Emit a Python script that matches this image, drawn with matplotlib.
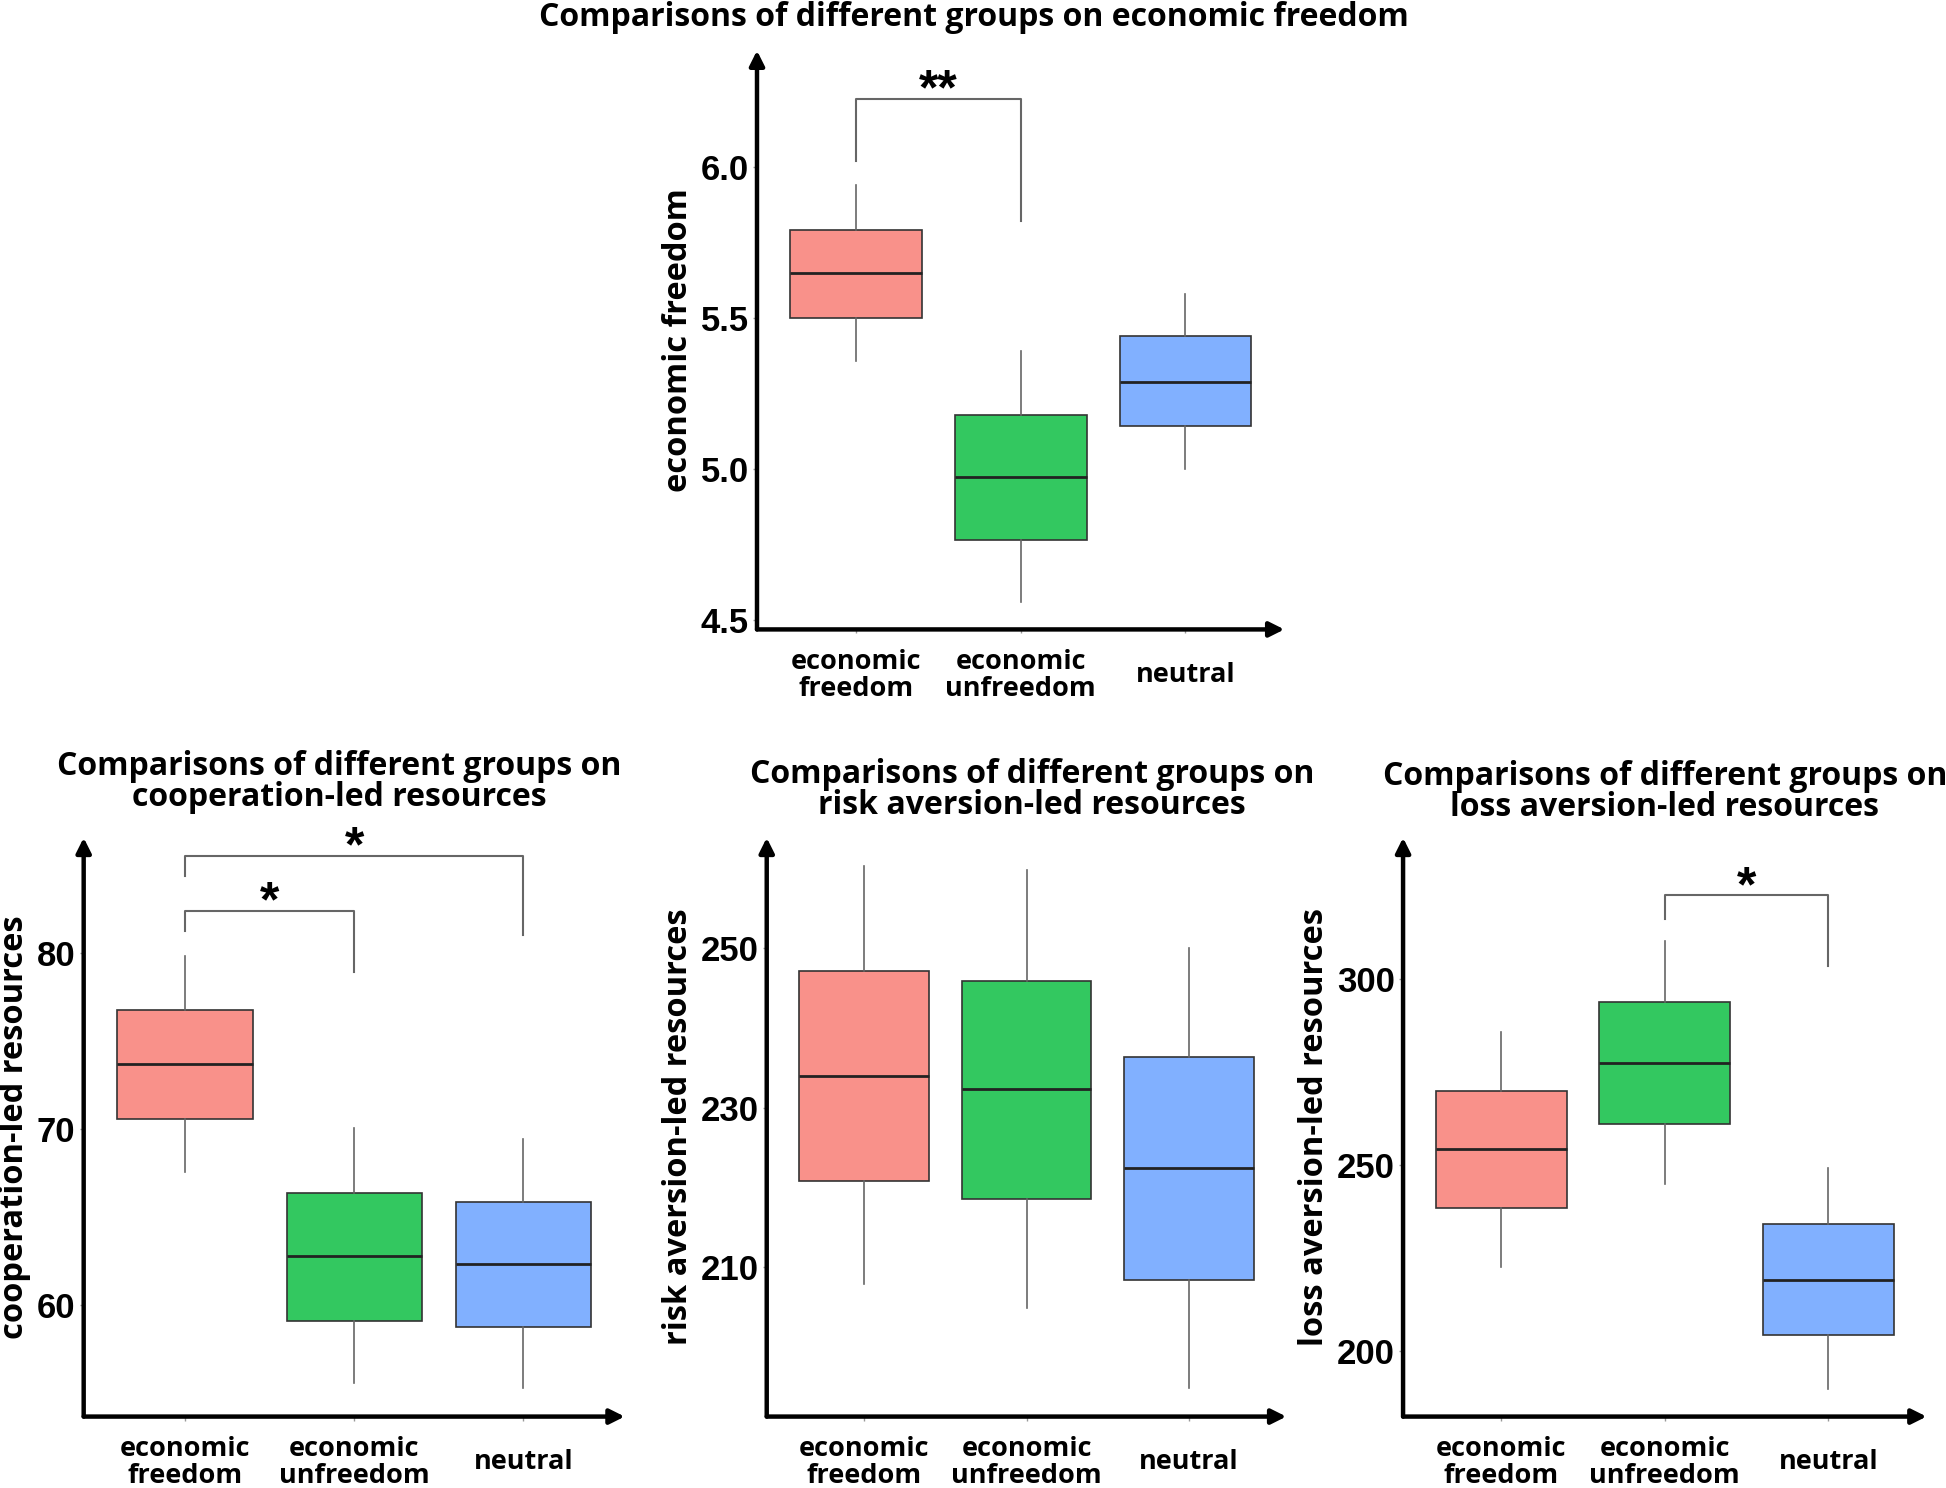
import matplotlib
matplotlib.use("Agg")
import matplotlib.pyplot as plt

# ---- données ----
groups = ["economic\nfreedom", "economic\nunfreedom", "neutral"]
colors = ["#F9918A", "#33C860", "#81B0FF"]

# stats : (bas moustache, Q1, médiane, Q3, haut moustache)
ef_stats = [(5.357, 5.50, 5.648, 5.79, 5.94),
            (4.56, 4.766, 4.975, 5.18, 5.39),
            (5.00, 5.143, 5.29, 5.44, 5.58)]
coop_stats = [(67.57, 70.57, 73.69, 76.78, 79.86),
              (55.55, 59.07, 62.79, 66.34, 70.03),
              (55.27, 58.74, 62.30, 65.85, 69.40)]
risk_stats = [(207.8, 220.8, 234.0, 247.2, 260.4),
              (204.8, 218.5, 232.3, 245.9, 259.8),
              (194.8, 208.4, 222.4, 236.3, 250.1)]
loss_stats = [(222.7, 238.4, 254.2, 269.9, 285.9),
              (244.9, 261.1, 277.5, 293.8, 310.3),
              (189.8, 204.3, 219.2, 234.1, 249.1)]

# crochets de significativité : (i, j, y haut, pied gauche, pied droit, label)
ef_sig = [(1, 2, 6.225, 6.02, 5.82, "**")]
coop_sig = [(1, 2, 82.4, 81.23, 78.9, "*"),
            (1, 3, 85.52, 84.37, 81.04, "*")]
loss_sig = [(2, 3, 322.5, 316.1, 303.6, "*")]

panels = [
    dict(rect=[0.389, 0.577, 0.271, 0.389], stats=ef_stats, sig=ef_sig,
         ylim=(4.47, 6.385), yticks=[4.5, 5.0, 5.5, 6.0], fmt="{:.1f}",
         ylabel="economic freedom",
         title="Comparisons of different groups on economic freedom",
         title_xy=(0.5006, 0.9883)),
    dict(rect=[0.043, 0.048, 0.278, 0.389], stats=coop_stats, sig=coop_sig,
         ylim=(53.63, 86.56), yticks=[60, 70, 80], fmt="{:.0f}",
         ylabel="cooperation-led resources",
         title="Comparisons of different groups on\ncooperation-led resources",
         title_xy=(0.1745, 0.4746)),
    dict(rect=[0.394, 0.048, 0.267, 0.389], stats=risk_stats, sig=[],
         ylim=(191.2, 263.9), yticks=[210, 230, 250], fmt="{:.0f}",
         ylabel="risk aversion-led resources",
         title="Comparisons of different groups on\nrisk aversion-led resources",
         title_xy=(0.5303, 0.469)),
    dict(rect=[0.721, 0.048, 0.269, 0.389], stats=loss_stats, sig=loss_sig,
         ylim=(182.4, 338.0), yticks=[200, 250, 300], fmt="{:.0f}",
         ylabel="loss aversion-led resources",
         title="Comparisons of different groups on\nloss aversion-led resources",
         title_xy=(0.8555, 0.468)),
]

TXT = ["Open Sans", "DejaVu Sans"]
NUM = ["Liberation Sans", "DejaVu Sans"]

fig = plt.figure(figsize=(19.46, 14.88), dpi=100)

for p in panels:
    ax = fig.add_axes(p["rect"])
    bxp_stats = []
    for s in p["stats"]:
        bxp_stats.append(dict(whislo=s[0], q1=s[1], med=s[2], q3=s[3],
                              whishi=s[4], fliers=[]))
    bp = ax.bxp(bxp_stats, positions=[1, 2, 3], widths=0.8, patch_artist=True,
                showcaps=False, showfliers=False,
                boxprops=dict(edgecolor="#333333", linewidth=1.2),
                medianprops=dict(color="#222222", linewidth=2.0),
                whiskerprops=dict(color="#666666", linewidth=1.2))
    for patch, c in zip(bp["boxes"], colors):
        patch.set_facecolor(c)

    ax.set_xlim(0.4, 3.6)
    ax.set_ylim(*p["ylim"])
    ax.set_yticks(p["yticks"])
    ax.set_yticklabels([p["fmt"].format(v) for v in p["yticks"]],
                       family=NUM, fontsize=25, fontweight="bold")
    ax.set_xticks([1, 2, 3])
    ax.set_xticklabels(groups, family=TXT, fontsize=19.5, fontweight="bold",
                       linespacing=1.05)
    for lbl in ax.get_xticklabels():
        lbl.set_verticalalignment("center")
    ax.tick_params(length=3, width=1, color="#999999", pad=3)
    ax.tick_params(axis="x", pad=30)
    for sp in ax.spines.values():
        sp.set_visible(False)

    # axes avec flèches
    arrow = dict(arrowstyle="-|>", lw=3.2, color="black", mutation_scale=22,
                 shrinkA=0, shrinkB=0)
    ax.annotate("", xy=(1.0, 0), xytext=(0, 0), xycoords="axes fraction",
                arrowprops=arrow, annotation_clip=False)
    ax.annotate("", xy=(0, 1.0), xytext=(0, 0), xycoords="axes fraction",
                arrowprops=arrow, annotation_clip=False)

    ax.set_ylabel(p["ylabel"], family=TXT, fontsize=23.5, fontweight="bold",
                  labelpad=4)
    fig.text(p["title_xy"][0], p["title_xy"][1], p["title"], family=TXT,
             fontsize=23, fontweight="bold", ha="center", va="center",
             linespacing=0.92)

    for i, j, ytop, yl, yr, lab in p["sig"]:
        ax.plot([i, i, j, j], [yl, ytop, ytop, yr], color="#666666", lw=1.5)
        ax.annotate(lab, xy=((i + j) / 2, ytop), xytext=(0, -4),
                    textcoords="offset points", ha="center", va="baseline",
                    family=NUM, fontsize=36, fontweight="bold")

fig.savefig("out.png", dpi=100)
